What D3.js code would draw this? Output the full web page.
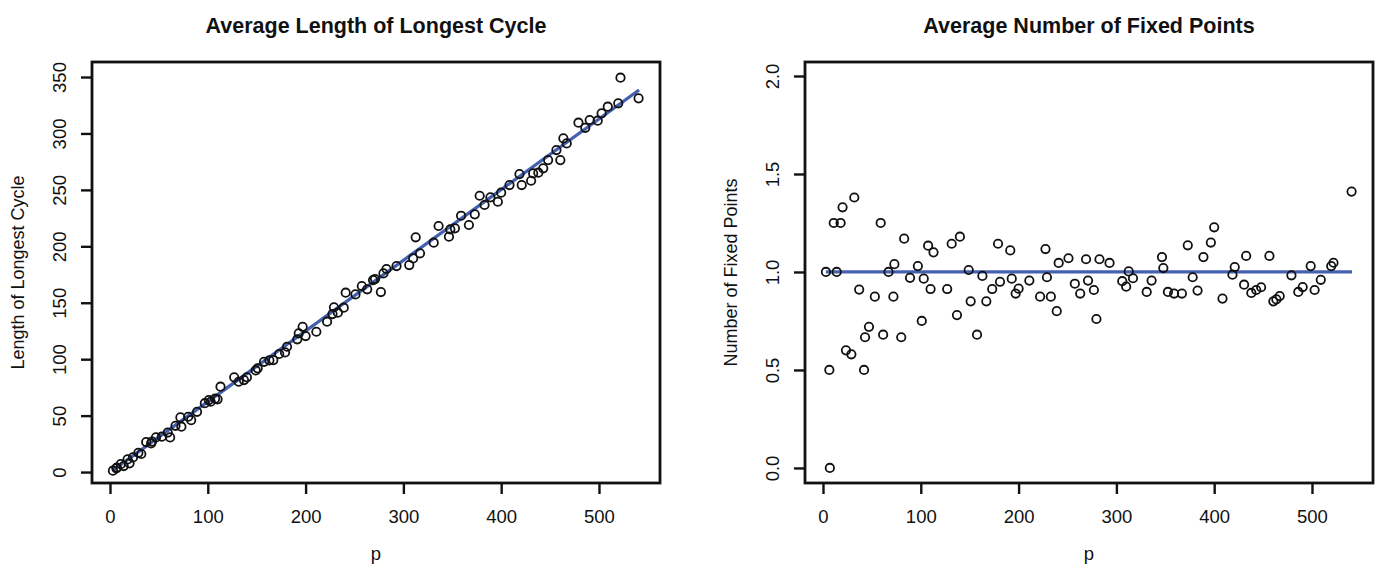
<!DOCTYPE html>
<html>
<head>
<meta charset="utf-8">
<script src="https://cdn.jsdelivr.net/npm/d3@7"></script>
<style>
  body { margin: 0; background: #fff; }
  text { font-family: "Liberation Sans", Arial, sans-serif; fill: #111; }
</style>
</head>
<body>
<div id="chart"></div>
<script>
// p values shared by both panels
const pValues = [3, 6.5, 7, 11, 14, 18, 20, 23.5, 29, 32, 37, 42, 43, 47, 53, 59, 61.5, 67, 72, 73,
  80, 83, 89, 97, 101, 103, 107.5, 110, 113, 127, 131.6, 137, 140, 149, 151, 157.5, 163, 167, 173, 179,
  181, 191.5, 193, 197, 200, 211, 222, 227.5, 229, 233, 239, 241, 251, 257.5, 263, 269, 271, 277, 279.6, 282.7,
  293, 306, 310, 312.6, 317, 331, 336, 346.6, 348, 352.7, 359, 367, 373, 378, 383, 389, 396.6, 400, 408.5, 418.7,
  421, 430.6, 432.7, 438, 443, 448, 456.5, 460.5, 463.6, 467, 479, 486, 490.5, 498.7, 502.7, 509, 519.7, 522, 540.5];

// average length of longest cycle
const longestCycle = [1.2, 3.3, 4, 7, 5.3, 11.2, 7.7, 13, 17, 16, 26.6, 25.4, 27, 30.7, 31.3, 35, 30.7, 41, 48.4, 40.2,
  49, 46, 53.4, 61, 63.8, 62.3, 65, 64.4, 75.6, 83.9, 80, 81.5, 83.9, 90, 91.9, 97.7, 99, 99.2, 104.6, 106,
  111, 117.6, 122.9, 128.7, 120.5, 124.3, 133.2, 140, 146, 141.2, 145.6, 158.9, 157.4, 164.8, 161.9, 170.1, 171, 159.5, 176, 179.9,
  182.5, 183.4, 189.3, 208, 193.8, 203.2, 218, 208.5, 215, 215.9, 227.1, 218.9, 228.3, 244.8, 236.6, 243.4, 239.5, 247.5, 254.3, 264,
  254.3, 258.1, 264.6, 265.2, 269.1, 276.4, 285.3, 276.4, 295.6, 291.2, 309.5, 305, 311.9, 311.3, 317.8, 323.7, 326.7, 349.4, 331.1];

// average number of fixed points
const fixedPoints = [1.0, 0.5, 0.0, 1.25, 1.0, 1.25, 1.33, 0.6, 0.58, 1.38, 0.91, 0.5, 0.667, 0.72, 0.874, 1.25, 0.68, 1.0, 0.874, 1.04,
  0.667, 1.17, 0.97, 1.03, 0.75, 0.966, 1.134, 0.913, 1.1, 0.913, 1.144, 0.78, 1.18, 1.01, 0.85, 0.68, 0.98, 0.85, 0.913, 1.144,
  0.95, 1.11, 0.966, 0.89, 0.915, 0.956, 0.874, 1.117, 0.973, 0.874, 0.8, 1.046, 1.07, 0.94, 0.89, 1.065, 0.956, 0.908, 0.76, 1.065,
  1.046, 0.953, 0.925, 1.003, 0.968, 0.898, 0.956, 1.076, 1.02, 0.898, 0.89, 0.89, 1.136, 0.973, 0.905, 1.076, 1.15, 1.228, 0.864, 0.986,
  1.025, 0.935, 1.082, 0.893, 0.908, 0.922, 1.082, 0.85, 0.86, 0.877, 0.983, 0.898, 0.923, 1.03, 0.908, 0.96, 1.03, 1.047, 1.41];

// fitted / reference lines (endpoints)
const cycleFit = [[3, 1.6], [541, 338.5]];
const fixedRef = [[3, 1], [541, 1]];

const xTicks = [0, 100, 200, 300, 400, 500];
const cycleTicks = [0, 50, 100, 150, 200, 250, 300, 350];
const fixedTicks = [0, 0.5, 1, 1.5, 2];

const width = 1380;
const height = 577;

const svg = d3.select('#chart').append('svg')
  .attr('width', width)
  .attr('height', height);

function panel(opts) {
  const x = d3.scaleLinear().domain([-18.4, 562.4]).range([opts.left, opts.left + 568]);
  const y = d3.scaleLinear().domain(opts.yDomain).range([483, 62]);
  const g = svg.append('g');

  // x ticks
  const xAxis = d3.axisBottom(x).tickValues(xTicks).tickSize(11).tickSizeOuter(0).tickPadding(16);
  const gx = g.append('g').attr('transform', 'translate(0,483)').call(xAxis);
  gx.select('.domain').remove();
  gx.selectAll('line').attr('stroke', '#111').attr('stroke-width', 2.4);
  gx.selectAll('text').attr('font-size', 18.5).attr('fill', '#111');

  // y ticks
  const yAxis = d3.axisLeft(y).tickValues(opts.yTicks).tickSize(11).tickSizeOuter(0)
    .tickFormat(opts.yFormat);
  const gy = g.append('g').attr('transform', `translate(${opts.left},0)`).call(yAxis);
  gy.select('.domain').remove();
  gy.selectAll('line').attr('stroke', '#111').attr('stroke-width', 2.4);
  gy.selectAll('text')
    .attr('font-size', 18.5)
    .attr('fill', '#111')
    .attr('text-anchor', 'middle')
    .attr('dy', null)
    .attr('x', null)
    .attr('transform', 'translate(-26,0) rotate(-90)')
    .attr('y', 0);

  // box
  g.append('rect')
    .attr('x', opts.left).attr('y', 62)
    .attr('width', 568).attr('height', 421)
    .attr('fill', 'none').attr('stroke', '#111').attr('stroke-width', 2.8);

  // line
  g.append('path')
    .datum(opts.line)
    .attr('d', d3.line().x((d) => x(d[0])).y((d) => y(d[1])))
    .attr('stroke', '#4461b0').attr('stroke-width', 3.3).attr('fill', 'none');

  // points
  g.append('g')
    .selectAll('circle')
    .data(pValues.map((p, i) => [p, opts.values[i]]))
    .join('circle')
    .attr('cx', (d) => x(d[0]))
    .attr('cy', (d) => y(d[1]))
    .attr('r', 4.2)
    .attr('fill', 'none')
    .attr('stroke', '#111')
    .attr('stroke-width', 1.8);

  // titles
  const cx = opts.left + 284;
  g.append('text').attr('x', cx).attr('y', 33)
    .attr('text-anchor', 'middle').attr('font-size', 21.5).attr('font-weight', 'bold')
    .text(opts.title);
  g.append('text').attr('x', cx).attr('y', 560)
    .attr('text-anchor', 'middle').attr('font-size', 18.5)
    .text('p');
  g.append('text')
    .attr('transform', `translate(${opts.left - 68},272.5) rotate(-90)`)
    .attr('text-anchor', 'middle').attr('font-size', 18)
    .text(opts.yLabel);
}

panel({
  left: 92,
  yDomain: [-9.7, 363.3],
  yTicks: cycleTicks,
  yFormat: d3.format('d'),
  values: longestCycle,
  line: cycleFit,
  title: 'Average Length of Longest Cycle',
  yLabel: 'Length of Longest Cycle'
});

panel({
  left: 805,
  yDomain: [-0.0768, 2.0714],
  yTicks: fixedTicks,
  yFormat: d3.format('.1f'),
  values: fixedPoints,
  line: fixedRef,
  title: 'Average Number of Fixed Points',
  yLabel: 'Number of Fixed Points'
});
</script>
</body>
</html>
